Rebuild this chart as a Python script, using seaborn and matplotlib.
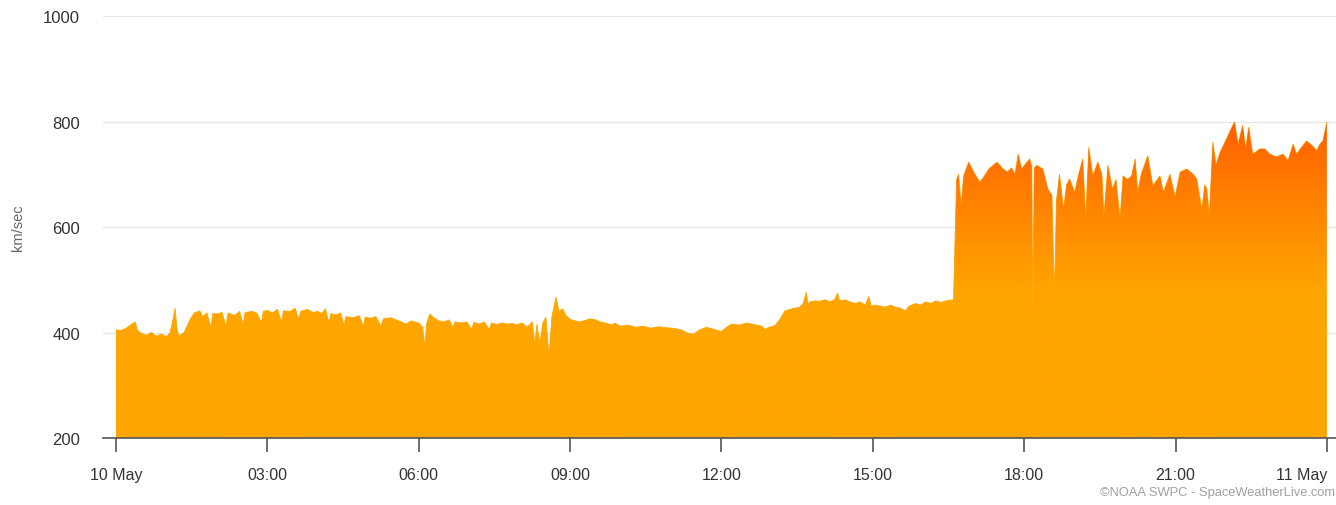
import matplotlib.pyplot as plt
import numpy as np
import pandas as pd
import seaborn as sns
from matplotlib.colors import LinearSegmentedColormap

# Solar wind speed, 10 May 00:00 -> 11 May 00:00 (hours since midnight, km/sec)
hours_a = [0.00, 0.10, 0.20, 0.30, 0.38, 0.42, 0.50, 0.60, 0.70, 0.80, 0.90, 1.00, 1.07, 1.12, 1.17,
           1.21, 1.25, 1.35, 1.47, 1.55, 1.66, 1.72, 1.80, 1.88, 1.92, 2.00, 2.10, 2.18, 2.22, 2.35,
           2.45, 2.52, 2.56, 2.70, 2.80, 2.88, 2.92, 3.00, 3.10, 3.20, 3.28, 3.32, 3.45, 3.55, 3.62,
           3.66, 3.80, 3.90, 4.00]
speed_a = [405, 404, 408, 415, 420, 405, 398, 395, 400, 393, 397, 392, 400, 420, 446,
           405, 393, 400, 425, 437, 441, 430, 437, 410, 436, 435, 438, 412, 437, 432,
           440, 415, 438, 440, 436, 418, 440, 442, 437, 444, 420, 441, 440, 446, 425,
           440, 444, 438, 440]

hours_b = [4.08, 4.15, 4.22, 4.26, 4.35, 4.45, 4.52, 4.56, 4.70, 4.82, 4.90, 4.94, 5.05, 5.15, 5.25,
           5.30, 5.45, 5.55, 5.65, 5.75, 5.85, 6.00, 6.08, 6.12, 6.16, 6.22, 6.30, 6.40, 6.50, 6.60,
           6.68, 6.72, 6.85, 6.95, 7.05, 7.09, 7.20, 7.30, 7.40, 7.44, 7.55, 7.65, 7.75, 7.85, 7.95]
speed_b = [436, 445, 418, 436, 433, 437, 415, 430, 428, 432, 412, 429, 427, 430, 412,
           426, 428, 424, 420, 416, 422, 418, 410, 372, 418, 435, 428, 422, 420, 424,
           410, 420, 418, 420, 406, 419, 416, 420, 405, 418, 415, 418, 416, 417, 415]

hours_c = [8.05, 8.15, 8.25, 8.30, 8.34, 8.40, 8.46, 8.52, 8.58, 8.64, 8.72, 8.78, 8.85, 8.92, 9.00,
           9.10, 9.20, 9.30, 9.40, 9.50, 9.60, 9.70, 9.80, 9.90, 10.00, 10.15, 10.30, 10.45, 10.60,
           10.75, 10.90, 11.05, 11.20, 11.35, 11.45, 11.55, 11.70, 11.85, 12.00]
speed_c = [418, 410, 420, 378, 415, 380, 418, 429, 354, 430, 467, 440, 445, 432, 425,
           422, 420, 423, 426, 424, 420, 418, 415, 417, 412, 414, 410, 412, 408,
           411, 409, 408, 405, 398, 397, 404, 410, 406, 402]

hours_d = [12.10, 12.20, 12.35, 12.50, 12.65, 12.80, 12.86, 12.95, 13.06, 13.16, 13.26, 13.40, 13.55,
           13.62, 13.68, 13.72, 13.75, 13.85, 13.95, 14.05, 14.15, 14.25, 14.30, 14.34, 14.45, 14.55,
           14.65, 14.75, 14.85, 14.92, 14.97, 15.05, 15.15, 15.25, 15.35, 15.45, 15.55, 15.64, 15.72,
           15.85, 15.95, 16.05, 16.15, 16.25, 16.35, 16.45, 16.60]
speed_d = [410, 416, 414, 418, 415, 412, 406, 410, 413, 425, 441, 445, 448,
           455, 476, 452, 458, 460, 459, 462, 458, 463, 475, 460, 462, 458,
           455, 458, 452, 468, 450, 452, 450, 448, 452, 448, 446, 441, 450,
           455, 452, 458, 455, 460, 457, 460, 462]

hours_e = [16.66, 16.70, 16.75, 16.80, 16.90, 17.00, 17.12, 17.20, 17.30, 17.46, 17.56, 17.66, 17.75,
           17.82, 17.88, 17.95, 18.03, 18.11, 18.15, 18.17, 18.20, 18.25, 18.37, 18.47, 18.55, 18.60,
           18.64, 18.70, 18.78, 18.84, 18.90, 19.00, 19.08, 19.16, 19.22, 19.28, 19.36, 19.46, 19.54,
           19.58, 19.66, 19.75, 19.82, 19.90, 19.96, 20.05, 20.13, 20.20, 20.25, 20.32, 20.45, 20.55,
           20.69, 20.76, 20.89, 20.99, 21.09, 21.22, 21.35, 21.42, 21.52, 21.58, 21.62, 21.67, 21.74,
           21.80, 21.88, 22.01, 22.10, 22.17, 22.24, 22.33, 22.39, 22.45, 22.53, 22.67, 22.77, 22.87,
           23.00, 23.13, 23.23, 23.33, 23.40, 23.47, 23.60, 23.70, 23.80, 23.86, 23.92, 24.00]
speed_e = [690, 700, 640, 697, 723, 704, 685, 695, 710, 723, 712, 704, 712,
           700, 738, 710, 720, 729, 715, 439, 712, 717, 710, 672, 660, 469,
           650, 700, 634, 680, 691, 666, 700, 729, 615, 751, 697, 723, 700,
           621, 717, 672, 690, 615, 697, 690, 697, 729, 666, 700, 735, 678,
           697, 666, 700, 657, 704, 710, 700, 691, 634, 680, 672, 621, 761,
           717, 741, 767, 786, 799, 757, 792, 748, 789, 738, 748, 748, 738,
           733, 738, 726, 757, 738, 748, 763, 755, 745, 757, 763, 799]

tick_hours = [0, 3, 6, 9, 12, 15, 18, 21, 24]
tick_labels = ['10 May', '03:00', '06:00', '09:00', '12:00', '15:00', '18:00', '21:00', '11 May']
y_ticks = [200, 400, 600, 800, 1000]

df = pd.DataFrame({
    'hour': hours_a + hours_b + hours_c + hours_d + hours_e,
    'speed': speed_a + speed_b + speed_c + speed_d + speed_e,
})

sns.set_style('white')
plt.rcParams['font.family'] = ['Liberation Sans', 'DejaVu Sans']

fig = plt.figure(figsize=(13.36, 5.06), dpi=100)
ax = fig.add_axes([0.0771, 0.1324, 0.9229, 0.834])

x0, x1 = -0.258, 24.18
ax.set_xlim(x0, x1)
ax.set_ylim(200, 1000)

# thin edge line, mostly hidden under the gradient fill
sns.lineplot(data=df, x='hour', y='speed', ax=ax, color='#FFA500', lw=0.6, zorder=2)

# gradient fill clipped to the area under the curve
poly = ax.fill_between(df['hour'], df['speed'], 200, facecolor='none', edgecolor='none')
cmap = LinearSegmentedColormap.from_list('sw', [(0, '#FFA500'), (0.45, '#FFA500'),
                                                (0.75, '#FF7E00'), (1.0, '#FF5A00')])
grad = np.linspace(0, 1, 400).reshape(-1, 1)
im = ax.imshow(grad, cmap=cmap, extent=[x0, x1, 200, 820], origin='lower',
               aspect='auto', zorder=3, interpolation='bilinear')
im.set_clip_path(poly.get_paths()[0], transform=ax.transData)
ax.set_xlim(x0, x1)
ax.set_ylim(200, 1000)

# grid and axes
for v in y_ticks[1:]:
    ax.axhline(v, color='#e6e6e6', lw=1, zorder=1)
for s in ['top', 'right', 'left']:
    ax.spines[s].set_visible(False)
ax.spines['bottom'].set_color('#555555')
ax.spines['bottom'].set_linewidth(1.2)
ax.spines['bottom'].set_zorder(5)

ax.set_xticks(tick_hours)
ax.set_xticklabels(tick_labels)
ax.set_yticks(y_ticks)
ax.set_yticklabels([str(v) for v in y_ticks])
ax.tick_params(axis='x', direction='out', length=10, width=1.2, color='#555555',
               labelsize=11.5, labelcolor='#333333', pad=11, bottom=True)
ax.tick_params(axis='y', length=0, labelsize=12, labelcolor='#333333', pad=16.5)
ax.get_xticklabels()[-1].set_horizontalalignment('right')

ax.set_xlabel('')
ax.set_ylabel('')
fig.text(18 / 1336, 1 - 228 / 506, 'km/sec', rotation=90, ha='center', va='center',
         fontsize=10.5, color='#666666')

fig.text(0.999, 0.026, '\u00a9NOAA SWPC - SpaceWeatherLive.com', ha='right', va='center',
         fontsize=9.3, color='#a0a0a0')

fig.savefig('out.png', dpi=100)
